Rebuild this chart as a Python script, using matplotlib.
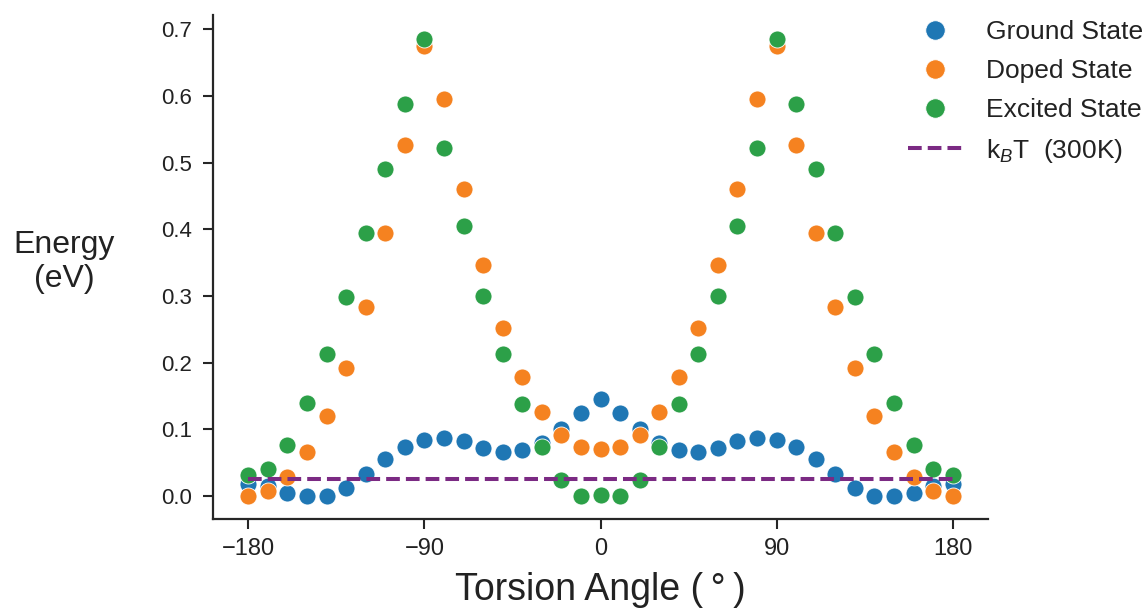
import matplotlib
matplotlib.use("Agg")
import matplotlib.pyplot as plt
from matplotlib.lines import Line2D

plt.rcParams['font.family'] = ['Liberation Sans', 'DejaVu Sans']
plt.rcParams['mathtext.fontset'] = 'custom'
plt.rcParams['mathtext.rm'] = 'Liberation Sans'
plt.rcParams['mathtext.it'] = 'Liberation Sans:italic'

angles = [-180, -170, -160, -150, -140, -130, -120, -110, -100, -90, -80, -70, -60, -50, -40,
          -30, -20, -10, 0, 10, 20, 30, 40, 50, 60, 70, 80, 90, 100, 110, 120, 130, 140, 150,
          160, 170, 180]

ground = [0.018, 0.015, 0.005, 0.000, 0.000, 0.012, 0.033, 0.055, 0.074, 0.084, 0.087, 0.082,
          0.072, 0.066, 0.069, 0.080, 0.100, 0.125, 0.146, 0.125, 0.100, 0.080, 0.069, 0.066,
          0.072, 0.082, 0.087, 0.084, 0.074, 0.055, 0.033, 0.012, 0.000, 0.000, 0.005, 0.015,
          0.018]

doped = [0.000, 0.007, 0.028, 0.066, 0.120, 0.192, 0.284, 0.394, 0.526, 0.675, 0.596, 0.461,
         0.346, 0.252, 0.179, 0.126, 0.092, 0.074, 0.070, 0.074, 0.092, 0.126, 0.179, 0.252,
         0.346, 0.461, 0.596, 0.675, 0.526, 0.394, 0.284, 0.192, 0.120, 0.066, 0.028, 0.007,
         0.000]

excited = [0.031, 0.040, 0.077, 0.139, 0.213, 0.298, 0.395, 0.491, 0.588, 0.685, 0.522, 0.405,
           0.300, 0.213, 0.138, 0.074, 0.024, 0.000, 0.002, 0.000, 0.024, 0.074, 0.138, 0.213,
           0.300, 0.405, 0.522, 0.685, 0.588, 0.491, 0.395, 0.298, 0.213, 0.139, 0.077, 0.040,
           0.031]

kbt = 0.0259
kbt_range = [-180, 180]

series_labels = ['Ground State', 'Doped State', 'Excited State']
kbt_label = r'k$_{\mathit{B}}$T  (300K)'
xticks = [-180, -90, 0, 90, 180]
yticks = [0.0, 0.1, 0.2, 0.3, 0.4, 0.5, 0.6, 0.7]

colors = ['#1f77b4', '#f58220', '#2ca048']
kbt_color = '#7b2a83'
axis_color = '#262626'

fig = plt.figure(figsize=(11.46, 6.11), dpi=100)
ax = fig.add_axes([0.1859, 0.1506, 0.8621 - 0.1859, 0.9755 - 0.1506])

for vals, c in zip([ground, doped, excited], colors):
    ax.scatter(angles, vals, s=150, color=c, edgecolor='white', linewidth=0.6, zorder=3)

ax.plot(kbt_range, [kbt, kbt], color=kbt_color, linestyle=(0, (3.4, 1.5)), linewidth=2.9, zorder=4)

ax.set_xticks(xticks)
ax.set_xticklabels(['\u2212180', '\u221290', '0', '90', '180'])
ax.set_yticks(yticks)
ax.set_yticklabels([f'{v:.1f}' for v in yticks])
ax.tick_params(axis='x', labelsize=17, length=7, width=1.5, color=axis_color,
               labelcolor='#222222', pad=7)
ax.tick_params(axis='y', labelsize=16, length=7, width=1.5, color=axis_color,
               labelcolor='#222222', pad=8)

for side in ['top', 'right']:
    ax.spines[side].set_visible(False)
for side in ['left', 'bottom']:
    ax.spines[side].set_linewidth(1.6)
    ax.spines[side].set_color(axis_color)

ax.set_xlim(-198, 198)
ax.set_ylim(-0.0345, 0.7215)

ax.set_xlabel('Torsion Angle (\u2009\u00b0\u2009)', fontsize=27, color='#222222', labelpad=8)
ax.set_ylabel('Energy\n(eV)', fontsize=23, color='#222222', rotation=0,
              ha='center', va='center', linespacing=1.15)
ax.yaxis.set_label_coords(-0.192, 0.51)

handles = [Line2D([], [], linestyle='none', marker='o', markersize=14, color=c,
                  markeredgecolor='white', markeredgewidth=0.6) for c in colors]
handles.append(Line2D([], [], color=kbt_color, linestyle=(0, (3.4, 1.5)), linewidth=2.9))
labels = series_labels + [kbt_label]
fig.legend(handles, labels, loc='upper left', bbox_to_anchor=(0.776, 0.997),
           frameon=False, fontsize=19, handlelength=2.1, handletextpad=0.85,
           labelspacing=0.56, borderpad=0.2, labelcolor='#222222')

fig.savefig('out.png', dpi=100)
